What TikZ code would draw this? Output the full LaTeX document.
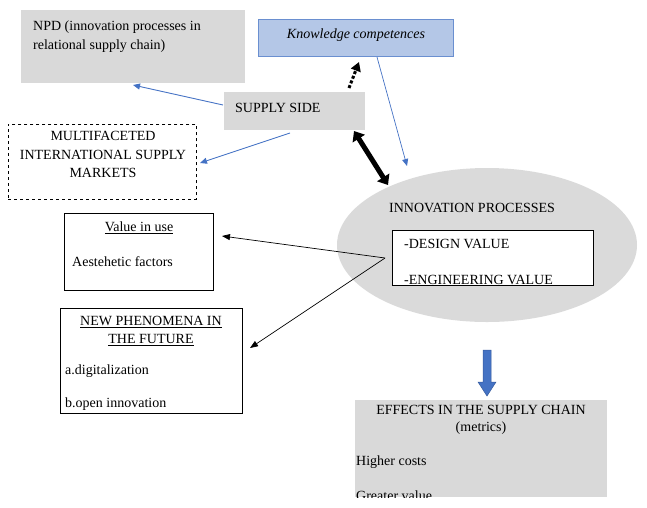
\documentclass[tikz,border=0pt]{standalone}
\usepackage{fontspec}
\setmainfont{Liberation Serif}
\usetikzlibrary{arrows.meta,shapes.geometric}
\definecolor{boxgrey}{HTML}{D9D9D9}
\definecolor{ellgrey}{HTML}{DADADA}
\definecolor{kfill}{HTML}{B4C7E7}
\definecolor{kborder}{HTML}{6A8FD0}
\definecolor{arrowblue}{HTML}{4472C4}
\begin{document}
\begin{tikzpicture}[x=1pt,y=-1pt,
  txt/.style={inner sep=0pt,font=\fontsize{14}{16}\selectfont},
  greybox/.style={fill=boxgrey,draw=none,anchor=north west,inner sep=0pt},
  blinebox/.style={draw=black,line width=0.8pt,fill=white,anchor=north west,inner sep=0pt},
  bluearrow/.style={draw=arrowblue,line width=0.9pt,-{Triangle[length=7pt,width=6pt]}},
  blackarrow/.style={draw=black,line width=0.7pt,-{Triangle[length=8pt,width=6pt]}}
]
\useasboundingbox (0,0) rectangle (647,507);
% boxes
\node[greybox,minimum width=224pt,minimum height=73pt] (npd) at (21,10) {};
\node[fill=kfill,draw=kborder,line width=0.8pt,anchor=north west,inner sep=0pt,minimum width=195pt,minimum height=37pt] (know) at (258,19) {};
\node[greybox,minimum width=141pt,minimum height=38pt] (supply) at (224,92) {};
\node[draw=black,dashed,line width=0.8pt,anchor=north west,inner sep=0pt,minimum width=188pt,minimum height=75pt] (multi) at (8,124) {};
\node[fill=ellgrey,draw=none,ellipse,inner sep=0pt,minimum width=300pt,minimum height=154pt] (ell) at (487,245) {};
\node[blinebox,minimum width=201pt,minimum height=55pt] (inner) at (392,230) {};
\node[blinebox,minimum width=149pt,minimum height=77pt] (value) at (64,213) {};
\node[blinebox,minimum width=182pt,minimum height=105pt] (newph) at (60,308) {};
\node[greybox,minimum width=252pt,minimum height=97pt] (effects) at (355,400) {};
% texts
\node[txt,anchor=west] (t1) at (33,27) {NPD (innovation processes in};
\node[txt,anchor=west] (t2) at (33,46) {relational supply chain)};
\node[txt] (t3) at (356,35) {\itshape Knowledge competences};
\node[txt,anchor=west] (t4) at (235,108) {SUPPLY SIDE};
\node[txt] (t5) at (103,136) {MULTIFACETED};
\node[txt] (t6) at (103,155) {INTERNATIONAL SUPPLY};
\node[txt] (t7) at (103,173) {MARKETS};
\node[txt,anchor=west] (t8) at (389,208) {INNOVATION PROCESSES};
\node[txt,anchor=west] (t9) at (404,244) {-DESIGN VALUE};
\begin{scope}
\clip (392,230) rectangle (593,285);
\node[txt,anchor=west] (t10) at (404,280) {-ENGINEERING VALUE};
\end{scope}
\node[txt] (t11) at (139,228) {\underline{Value in use}};
\node[txt,anchor=west] (t12) at (72,262) {Aestehetic factors};
\node[txt] (t13) at (151,322) {\underline{NEW PHENOMENA IN}};
\node[txt] (t14) at (151,340) {\underline{THE FUTURE}};
\node[txt,anchor=west] (t15) at (65,371) {a.digitalization};
\node[txt,anchor=west] (t16) at (65,404) {b.open innovation};
\node[txt] (t17) at (481,410) {EFFECTS IN THE SUPPLY CHAIN};
\node[txt] (t18) at (481,428) {(metrics)};
\node[txt,anchor=west] (t19) at (356,462) {Higher costs};
\begin{scope}
\clip (355,400) rectangle (607,497);
\node[txt,anchor=west] (t20) at (356,496) {Greater value};
\end{scope}
% connector end points
\coordinate (npdend) at (133,85);
\coordinate (multiend) at (200,163);
\coordinate (supL) at (223,105);
\coordinate (supB) at (290,133);
\coordinate (knowB) at (377,57);
\coordinate (ellT) at (407,166);
\coordinate (dotS) at (349,88);
\coordinate (dotE) at (359,62);
\coordinate (dblA) at (354,131);
\coordinate (dblB) at (388,185);
\coordinate (src) at (385,258);
\coordinate (valend) at (222,236);
\coordinate (newend) at (250,348);
% connectors
\draw[bluearrow] (supL) -- (npdend);
\draw[bluearrow] (supB) -- (multiend);
\draw[bluearrow,line width=0.7pt] (knowB) -- (ellT);
\draw[black,line width=3pt,dotted,line cap=butt,-{Triangle[length=9pt,width=10pt]}] (dotS) -- (dotE);
\draw[black,line width=5pt,{Triangle[length=9pt,width=14pt]}-{Triangle[length=9pt,width=14pt]}] (dblA) -- (dblB);
\draw[blackarrow] (src) -- (valend);
\draw[blackarrow] (src) -- (newend);
\draw[draw=arrowblue!80!black,fill=arrowblue,line width=0.5pt] (483,350) -- (491,350) -- (491,382) -- (496,382) -- (487,396) -- (478,382) -- (483,382) -- cycle;
\end{tikzpicture}
\end{document}
